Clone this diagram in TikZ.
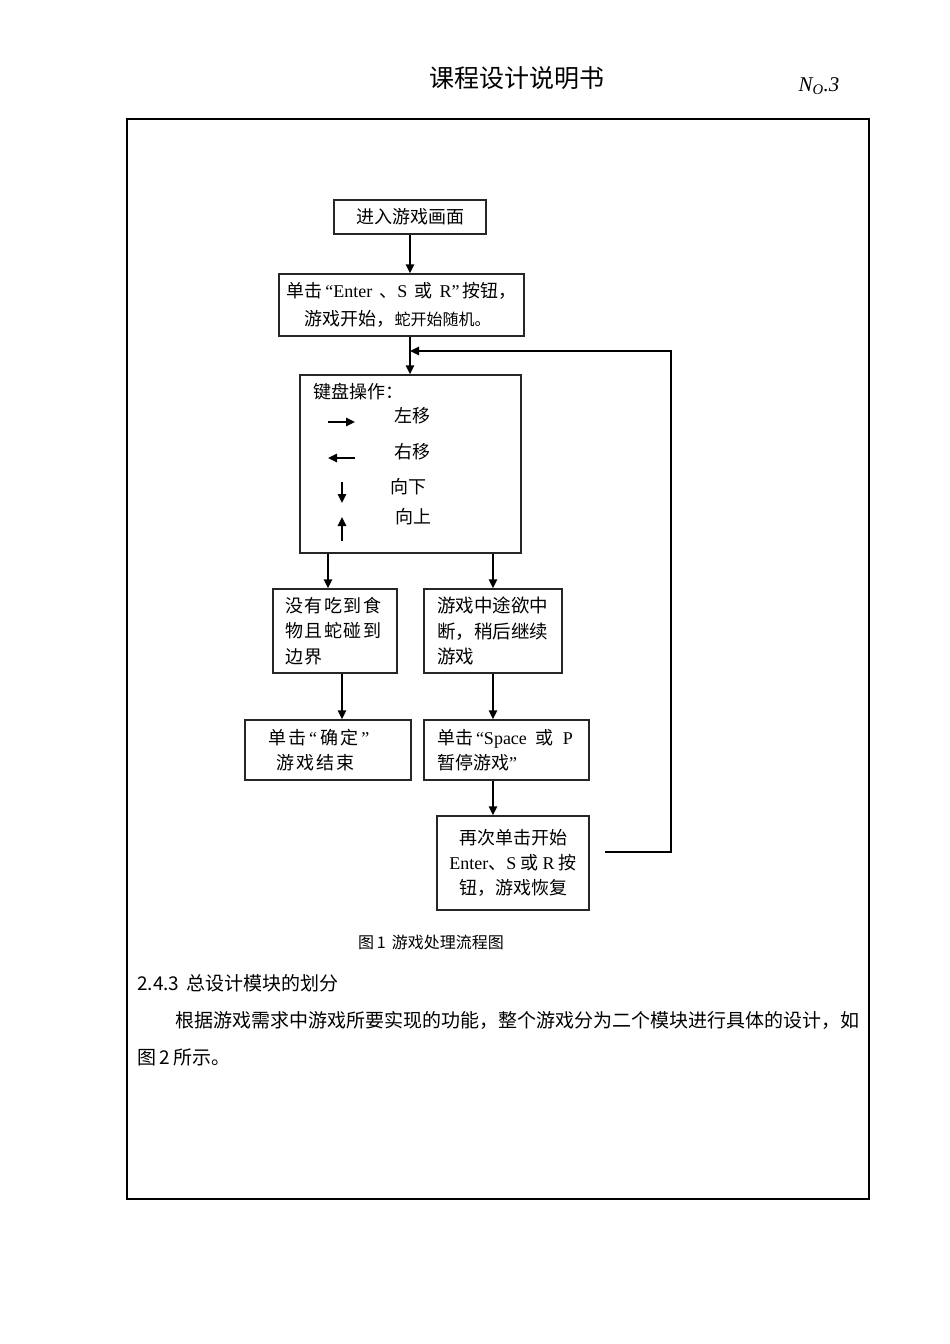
\documentclass[tikz,border=0pt]{standalone}
\usepackage{fontspec}
\setmainfont{Liberation Serif}
\newfontfamily\cjk{Noto Sans CJK SC}
\newfontfamily\cjkwide{Noto Sans CJK SC}[LetterSpace=9]
\newfontfamily\cjkwider{Noto Sans CJK SC}[LetterSpace=12]
\newcommand\entxt[1]{{\rmfamily #1}}
\usetikzlibrary{arrows.meta}
\usetikzlibrary{calc}

\tikzset{
	flowbox/.style={draw=black!85, line width=1.5pt, rectangle, inner sep=0pt},
	boxfont/.style={font=\cjk\fontsize{18}{25}\selectfont},
	flowline/.style={line width=1.6pt, ->},
}

\begin{document}
\begin{tikzpicture}[>/.tip={Triangle[length=9pt,width=8.5pt]}, x=1pt, y=-1pt]
	\useasboundingbox (0,0) rectangle (950,1344);
	\draw (517,78) node (title) {\cjk\fontsize{25}{25}\selectfont 课程设计说明书};
	\draw (819,86) node (pageno) {\fontsize{21}{21}\selectfont\itshape N\textsubscript{O}.3};
	\draw[line width=1.3pt] (127,119) rectangle (869,1199);

	\draw (410,217) node (enter) [flowbox, boxfont, minimum width=152pt, minimum height=34pt] {进入游戏画面};
	\draw (401.5,305) node (start) [flowbox, boxfont, minimum width=245pt, minimum height=62pt, align=center,
		font=\cjk\fontsize{18}{28}\selectfont] {单击\,\entxt{“Enter}\, 、\entxt{S}\, 或\, \entxt{R”}\,按钮，\\\hspace*{-8pt}游戏开始，{\fontsize{16}{28}\selectfont 蛇开始随机。}};
	\draw (410.5,464) node (keys) [flowbox, minimum width=221pt, minimum height=178pt] {};
	\draw (313,392) node (keytitle) [anchor=west, inner sep=0pt, boxfont] {键盘操作：};
	\draw (412,416) node (kleft) [boxfont] {左移};
	\draw (412,452) node (kright) [boxfont] {右移};
	\draw (408,487) node (kdown) [boxfont] {向下};
	\draw (413,517) node (kup) [boxfont] {向上};
	\draw[flowline] (328,422) -- (355,422);
	\draw[flowline] (355,458) -- (328,458);
	\draw[flowline] (342,482) -- (342,503);
	\draw[flowline] (342,541) -- (342,517);

	\draw (335,631) node (crash) [flowbox, minimum width=124pt, minimum height=84pt, text width=100pt, align=left,
		font=\cjkwide\fontsize{18}{25.5}\selectfont] {没有吃到食\\物且蛇碰到\\边界};
	\draw (493,631) node (pause) [flowbox, minimum width=138pt, minimum height=84pt, text width=112pt, align=left,
		font=\cjk\fontsize{18.5}{25.5}\selectfont] {游戏中途欲中\\断，稍后继续\\游戏};
	\draw (328,750) node (over) [flowbox, minimum width=166pt, minimum height=60pt, text width=120pt, align=left,
		font=\cjkwider\fontsize{18}{25}\selectfont] {单击\,\entxt{“}\,确定\,\entxt{”}\\\hspace*{8pt}游戏结束};
	\draw (506.5,750) node (space) [flowbox, boxfont, minimum width=165pt, minimum height=60pt, text width=139pt, align=left]
		{单击\,\entxt{“Space}\,~或\,~\entxt{P}\\暂停游戏\entxt{”}};
	\draw (513,863) node (resume) [flowbox, boxfont, minimum width=152pt, minimum height=94pt, align=center]
		{再次单击开始\\\entxt{Enter}、\entxt{S}~或~\entxt{R}~按\\钮，游戏恢复};

	\draw[flowline] (enter.south) -- (enter.south |- start.north);
	\draw[flowline] (enter.south |- start.south) -- (enter.south |- keys.north);
	\draw[flowline] ([xshift=-7pt]crash.north |- keys.south) -- ([xshift=-7pt]crash.north);
	\draw[flowline] (pause.north |- keys.south) -- (pause.north);
	\draw[flowline] ([xshift=7pt]crash.south) -- ([xshift=7pt]crash.south |- over.north);
	\draw[flowline] (pause.south) -- (pause.south |- space.north);
	\draw[flowline] (pause.south |- space.south) -- (pause.south |- resume.north);

	\coordinate (loop) at (671,351);
	\draw[flowline] ([xshift=15pt,yshift=11pt]resume.east) -| (loop) -- (enter.south |- loop);

	\draw (431,942) node (caption) {\cjk\fontsize{16}{16}\selectfont 图\,1\, 游戏处理流程图};
	\draw (137,983) node (section) [anchor=west, inner sep=0pt] {\cjk\fontsize{19}{19}\selectfont 2.4.3\, 总设计模块的划分};
	\draw (175,1020) node (para) [anchor=west, inner sep=0pt] {\cjk\fontsize{19}{19}\selectfont 根据游戏需求中游戏所要实现的功能，整个游戏分为二个模块进行具体的设计，如};
	\draw (137,1057) node (paraend) [anchor=west, inner sep=0pt] {\cjk\fontsize{19}{19}\selectfont 图\,2\,所示。};
\end{tikzpicture}
\end{document}
